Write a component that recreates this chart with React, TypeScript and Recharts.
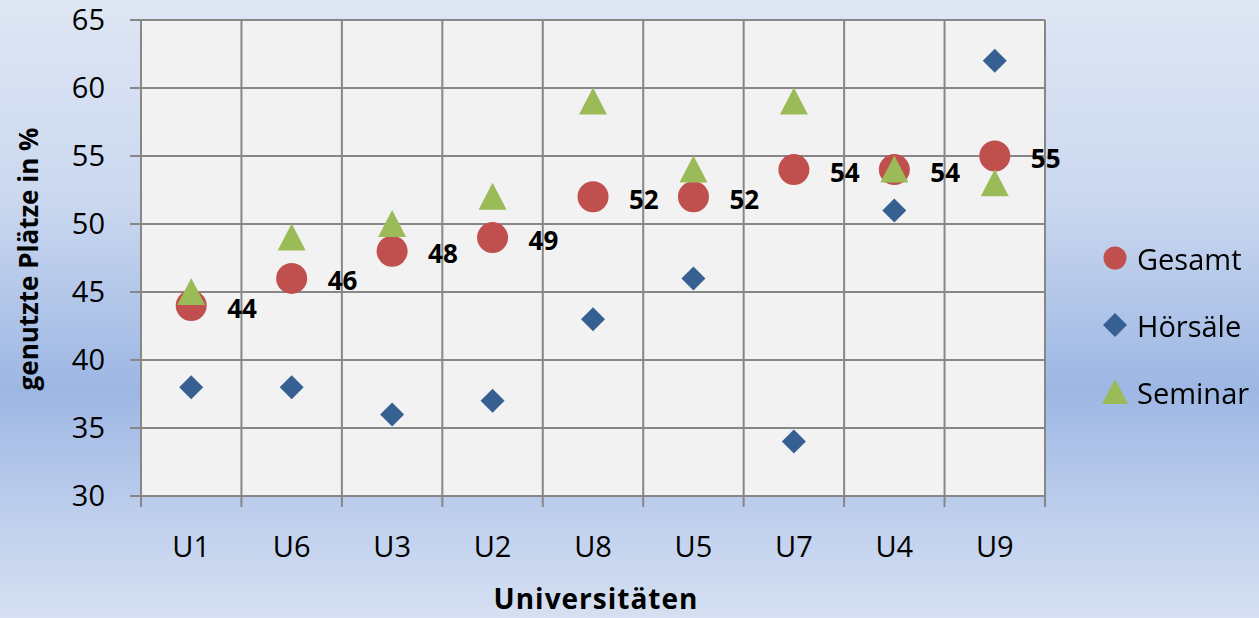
import {
  ScatterChart,
  Scatter,
  XAxis,
  YAxis,
  CartesianGrid,
  Legend,
  LabelList,
} from "recharts";

// Universities in the order shown on the axis
const categories = ["U1", "U6", "U3", "U2", "U8", "U5", "U7", "U4", "U9"];
const gesamt = [44, 46, 48, 49, 52, 52, 54, 54, 55];
const hoersaele = [38, 38, 36, 37, 43, 46, 34, 51, 62];
const seminar = [45, 49, 50, 52, 59, 54, 59, 54, 53];
const yTicks = [30, 35, 40, 45, 50, 55, 60, 65];
const xBounds = [0, 1, 2, 3, 4, 5, 6, 7, 8, 9];

const toPoints = (vals: number[]) =>
  vals.map((v, i) => ({ x: i + 0.5, y: v, name: categories[i] }));

const FONT = "'Open Sans', sans-serif";
const RED = "#c0504d";
const BLUE = "#376092";
const GREEN = "#9bbb59";
const GRID = "#878787";

const W = 1259;
const H = 618;
const margin = { top: 20, right: 214, left: 0, bottom: 0 };
const plotWidth = W - 141 - margin.right;
const halfBand = plotWidth / categories.length / 2;

const CircleShape = (p: any) => <circle cx={p.cx} cy={p.cy} r={15.5} fill={RED} />;
const DiamondShape = (p: any) => (
  <polygon
    points={`${p.cx},${p.cy - 12} ${p.cx + 12},${p.cy} ${p.cx},${p.cy + 12} ${p.cx - 12},${p.cy}`}
    fill={BLUE}
  />
);
const TriangleShape = (p: any) => (
  <polygon
    points={`${p.cx},${p.cy - 14} ${p.cx + 14},${p.cy + 13} ${p.cx - 14},${p.cy + 13}`}
    fill={GREEN}
  />
);

const XTick = (props: any) => {
  const { x, y, payload } = props;
  const idx = payload.value;
  if (idx >= categories.length) return null;
  return (
    <text x={x + halfBand} y={y} dy="0.71em" textAnchor="middle" fill="#000" fontSize={29} fontFamily={FONT}>
      {categories[idx]}
    </text>
  );
};

const GesamtLabel = (props: any) => {
  const { x, y, width, height, value } = props;
  const cx = x + (width || 0) / 2;
  const cy = y + (height || 0) / 2;
  return (
    <text x={cx + 36} y={cy + 2} dominantBaseline="central" fontSize={26} fontWeight="bold" fontFamily={FONT} fill="#000">
      {value}
    </text>
  );
};

const legendItems = [
  { name: "Gesamt", kind: "circle" },
  { name: "Hörsäle", kind: "diamond" },
  { name: "Seminar", kind: "triangle" },
];

const LegendBox = () => (
  <svg width={170} height={200} style={{ overflow: "visible" }}>
    {legendItems.map((it, i) => {
      const cy = 33 + i * 67;
      const cx = 20;
      return (
        <g key={it.name}>
          {it.kind === "circle" && <circle cx={cx} cy={cy} r={11.5} fill={RED} />}
          {it.kind === "diamond" && (
            <polygon points={`${cx},${cy - 12} ${cx + 12},${cy} ${cx},${cy + 12} ${cx - 12},${cy}`} fill={BLUE} />
          )}
          {it.kind === "triangle" && (
            <polygon points={`${cx},${cy - 13} ${cx + 13},${cy + 12} ${cx - 13},${cy + 12}`} fill={GREEN} />
          )}
          <text x={42} y={cy} dominantBaseline="central" fontSize={29} fontFamily={FONT} fill="#000">
            {it.name}
          </text>
        </g>
      );
    })}
  </svg>
);

export default function App() {
  return (
    <div
      style={{
        position: "fixed",
        left: 0,
        top: 0,
        width: W,
        height: H,
        background:
          "linear-gradient(to bottom, #dfe6f4 0%, #cbd8ef 32%, #9db7e4 63%, #bccdec 82%, #d6e0f2 100%)",
      }}
    >
      <ScatterChart width={W} height={H} margin={margin}>
        <CartesianGrid stroke={GRID} strokeWidth={2} fill="#f2f2f2" />
        <XAxis
          type="number"
          dataKey="x"
          domain={[0, 9]}
          ticks={xBounds}
          interval={0}
          height={122}
          tick={<XTick />}
          tickSize={11}
          tickMargin={29}
          tickLine={{ stroke: GRID, strokeWidth: 2 }}
          axisLine={{ stroke: GRID, strokeWidth: 2 }}
          label={{
            content: () => (
              <text x={596} y={609} textAnchor="middle" fontSize={28} letterSpacing={1} fontWeight="bold" fontFamily={FONT} fill="#000">
                Universitäten
              </text>
            ),
          }}
        />
        <YAxis
          type="number"
          dataKey="y"
          domain={[30, 65]}
          ticks={yTicks}
          interval={0}
          width={141}
          tickSize={11}
          tickMargin={25}
          tick={{ fill: "#000", fontSize: 29, fontFamily: FONT }}
          tickLine={{ stroke: GRID, strokeWidth: 2 }}
          axisLine={{ stroke: GRID, strokeWidth: 2 }}
          label={{
            content: () => (
              <text
                x={28}
                y={259}
                transform="rotate(-90 28 259)"
                dominantBaseline="central"
                textAnchor="middle"
                fontSize={26}
                fontWeight="bold"
                fontFamily={FONT}
                fill="#000"
              >
                genutzte Plätze in %
              </text>
            ),
          }}
        />
        <Legend
          layout="vertical"
          align="center"
          verticalAlign="middle"
          content={<LegendBox />}
          wrapperStyle={{ left: 1095, top: 225, width: 170, height: 200 }}
        />
        <Scatter name="Gesamt" data={toPoints(gesamt)} shape={CircleShape} isAnimationActive={false}>
          <LabelList dataKey="y" content={<GesamtLabel />} />
        </Scatter>
        <Scatter name="Hörsäle" data={toPoints(hoersaele)} shape={DiamondShape} isAnimationActive={false} />
        <Scatter name="Seminar" data={toPoints(seminar)} shape={TriangleShape} isAnimationActive={false} />
      </ScatterChart>
    </div>
  );
}
